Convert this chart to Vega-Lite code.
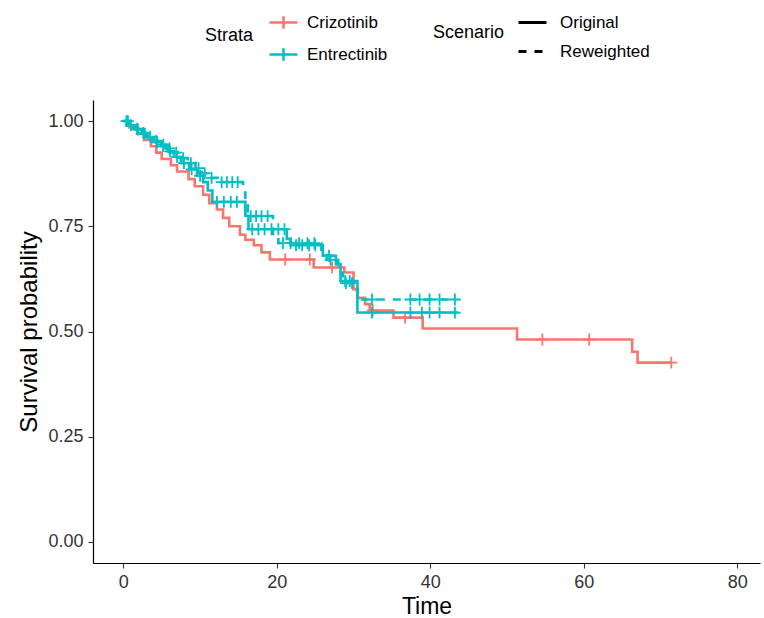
{
  "$schema": "https://vega.github.io/schema/vega-lite/v6.json",
  "autosize": {"type": "none"},
  "width": 667,
  "height": 463,
  "padding": {"left": 93, "top": 100, "right": 4, "bottom": 55},
  "background": "white",
  "datasets": {
    "curves": [
      {"strata": "Crizotinib", "scenario": "Original", "time": 0, "surv": 1.0},
      {"strata": "Crizotinib", "scenario": "Original", "time": 0.8, "surv": 0.985},
      {"strata": "Crizotinib", "scenario": "Original", "time": 1.8, "surv": 0.97},
      {"strata": "Crizotinib", "scenario": "Original", "time": 2.7, "surv": 0.955},
      {"strata": "Crizotinib", "scenario": "Original", "time": 3.6, "surv": 0.94},
      {"strata": "Crizotinib", "scenario": "Original", "time": 4.3, "surv": 0.925},
      {"strata": "Crizotinib", "scenario": "Original", "time": 5.0, "surv": 0.91},
      {"strata": "Crizotinib", "scenario": "Original", "time": 6.2, "surv": 0.895},
      {"strata": "Crizotinib", "scenario": "Original", "time": 7.0, "surv": 0.88},
      {"strata": "Crizotinib", "scenario": "Original", "time": 8.5, "surv": 0.862},
      {"strata": "Crizotinib", "scenario": "Original", "time": 9.3, "surv": 0.845},
      {"strata": "Crizotinib", "scenario": "Original", "time": 10.4, "surv": 0.825},
      {"strata": "Crizotinib", "scenario": "Original", "time": 11.2, "surv": 0.805},
      {"strata": "Crizotinib", "scenario": "Original", "time": 12.2, "surv": 0.79},
      {"strata": "Crizotinib", "scenario": "Original", "time": 13.0, "surv": 0.77},
      {"strata": "Crizotinib", "scenario": "Original", "time": 13.8, "surv": 0.75},
      {"strata": "Crizotinib", "scenario": "Original", "time": 15.2, "surv": 0.73},
      {"strata": "Crizotinib", "scenario": "Original", "time": 15.9, "surv": 0.718},
      {"strata": "Crizotinib", "scenario": "Original", "time": 17.0, "surv": 0.705},
      {"strata": "Crizotinib", "scenario": "Original", "time": 18.0, "surv": 0.688},
      {"strata": "Crizotinib", "scenario": "Original", "time": 19.1, "surv": 0.671},
      {"strata": "Crizotinib", "scenario": "Original", "time": 24.8, "surv": 0.652},
      {"strata": "Crizotinib", "scenario": "Original", "time": 28.8, "surv": 0.64},
      {"strata": "Crizotinib", "scenario": "Original", "time": 30.0, "surv": 0.60},
      {"strata": "Crizotinib", "scenario": "Original", "time": 30.5, "surv": 0.58},
      {"strata": "Crizotinib", "scenario": "Original", "time": 31.5, "surv": 0.565},
      {"strata": "Crizotinib", "scenario": "Original", "time": 32.1, "surv": 0.55},
      {"strata": "Crizotinib", "scenario": "Original", "time": 35.2, "surv": 0.533},
      {"strata": "Crizotinib", "scenario": "Original", "time": 39.0, "surv": 0.507},
      {"strata": "Crizotinib", "scenario": "Original", "time": 51.3, "surv": 0.481},
      {"strata": "Crizotinib", "scenario": "Original", "time": 66.3, "surv": 0.452},
      {"strata": "Crizotinib", "scenario": "Original", "time": 67.0, "surv": 0.426},
      {"strata": "Crizotinib", "scenario": "Original", "time": 71.4, "surv": 0.426},

      {"strata": "Entrectinib", "scenario": "Original", "time": 0, "surv": 1.0},
      {"strata": "Entrectinib", "scenario": "Original", "time": 0.7, "surv": 0.99},
      {"strata": "Entrectinib", "scenario": "Original", "time": 1.5, "surv": 0.98},
      {"strata": "Entrectinib", "scenario": "Original", "time": 2.4, "surv": 0.97},
      {"strata": "Entrectinib", "scenario": "Original", "time": 3.2, "surv": 0.96},
      {"strata": "Entrectinib", "scenario": "Original", "time": 4.0, "surv": 0.95},
      {"strata": "Entrectinib", "scenario": "Original", "time": 4.9, "surv": 0.94},
      {"strata": "Entrectinib", "scenario": "Original", "time": 5.8, "surv": 0.928},
      {"strata": "Entrectinib", "scenario": "Original", "time": 6.6, "surv": 0.915},
      {"strata": "Entrectinib", "scenario": "Original", "time": 7.5, "surv": 0.9},
      {"strata": "Entrectinib", "scenario": "Original", "time": 8.6, "surv": 0.885},
      {"strata": "Entrectinib", "scenario": "Original", "time": 9.6, "surv": 0.87},
      {"strata": "Entrectinib", "scenario": "Original", "time": 10.4, "surv": 0.855},
      {"strata": "Entrectinib", "scenario": "Original", "time": 11.0, "surv": 0.835},
      {"strata": "Entrectinib", "scenario": "Original", "time": 11.6, "surv": 0.808},
      {"strata": "Entrectinib", "scenario": "Original", "time": 15.9, "surv": 0.775},
      {"strata": "Entrectinib", "scenario": "Original", "time": 16.3, "surv": 0.743},
      {"strata": "Entrectinib", "scenario": "Original", "time": 21.3, "surv": 0.72},
      {"strata": "Entrectinib", "scenario": "Original", "time": 21.8, "surv": 0.705},
      {"strata": "Entrectinib", "scenario": "Original", "time": 26.0, "surv": 0.68},
      {"strata": "Entrectinib", "scenario": "Original", "time": 27.7, "surv": 0.66},
      {"strata": "Entrectinib", "scenario": "Original", "time": 28.3, "surv": 0.62},
      {"strata": "Entrectinib", "scenario": "Original", "time": 30.5, "surv": 0.545},
      {"strata": "Entrectinib", "scenario": "Original", "time": 43.6, "surv": 0.545},

      {"strata": "Entrectinib", "scenario": "Reweighted", "time": 0, "surv": 1.0},
      {"strata": "Entrectinib", "scenario": "Reweighted", "time": 0.5, "surv": 0.99},
      {"strata": "Entrectinib", "scenario": "Reweighted", "time": 1.3, "surv": 0.982},
      {"strata": "Entrectinib", "scenario": "Reweighted", "time": 2.2, "surv": 0.972},
      {"strata": "Entrectinib", "scenario": "Reweighted", "time": 3.0, "surv": 0.963},
      {"strata": "Entrectinib", "scenario": "Reweighted", "time": 3.9, "surv": 0.953},
      {"strata": "Entrectinib", "scenario": "Reweighted", "time": 4.8, "surv": 0.944},
      {"strata": "Entrectinib", "scenario": "Reweighted", "time": 5.6, "surv": 0.935},
      {"strata": "Entrectinib", "scenario": "Reweighted", "time": 6.5, "surv": 0.925},
      {"strata": "Entrectinib", "scenario": "Reweighted", "time": 7.4, "surv": 0.912},
      {"strata": "Entrectinib", "scenario": "Reweighted", "time": 8.4, "surv": 0.9},
      {"strata": "Entrectinib", "scenario": "Reweighted", "time": 9.4, "surv": 0.888},
      {"strata": "Entrectinib", "scenario": "Reweighted", "time": 10.2, "surv": 0.876},
      {"strata": "Entrectinib", "scenario": "Reweighted", "time": 11.0, "surv": 0.865},
      {"strata": "Entrectinib", "scenario": "Reweighted", "time": 12.3, "surv": 0.855},
      {"strata": "Entrectinib", "scenario": "Reweighted", "time": 15.6, "surv": 0.83},
      {"strata": "Entrectinib", "scenario": "Reweighted", "time": 15.9, "surv": 0.8},
      {"strata": "Entrectinib", "scenario": "Reweighted", "time": 16.2, "surv": 0.774},
      {"strata": "Entrectinib", "scenario": "Reweighted", "time": 19.5, "surv": 0.725},
      {"strata": "Entrectinib", "scenario": "Reweighted", "time": 20.2, "surv": 0.71},
      {"strata": "Entrectinib", "scenario": "Reweighted", "time": 25.8, "surv": 0.685},
      {"strata": "Entrectinib", "scenario": "Reweighted", "time": 26.5, "surv": 0.67},
      {"strata": "Entrectinib", "scenario": "Reweighted", "time": 28.0, "surv": 0.64},
      {"strata": "Entrectinib", "scenario": "Reweighted", "time": 28.6, "surv": 0.615},
      {"strata": "Entrectinib", "scenario": "Reweighted", "time": 30.5, "surv": 0.576},
      {"strata": "Entrectinib", "scenario": "Reweighted", "time": 43.6, "surv": 0.576}
    ],
    "censors": [
      {"strata": "Crizotinib", "scenario": "Original", "time": 21.1, "surv": 0.671},
      {"strata": "Crizotinib", "scenario": "Original", "time": 24.3, "surv": 0.671},
      {"strata": "Crizotinib", "scenario": "Original", "time": 27.2, "surv": 0.652},
      {"strata": "Crizotinib", "scenario": "Original", "time": 32.5, "surv": 0.55},
      {"strata": "Crizotinib", "scenario": "Original", "time": 36.7, "surv": 0.533},
      {"strata": "Crizotinib", "scenario": "Original", "time": 54.6, "surv": 0.481},
      {"strata": "Crizotinib", "scenario": "Original", "time": 60.7, "surv": 0.481},
      {"strata": "Crizotinib", "scenario": "Original", "time": 71.4, "surv": 0.426},

      {"strata": "Entrectinib", "scenario": "Original", "time": 0.6, "surv": 1.0},
      {"strata": "Entrectinib", "scenario": "Original", "time": 1.9, "surv": 0.98},
      {"strata": "Entrectinib", "scenario": "Original", "time": 2.8, "surv": 0.97},
      {"strata": "Entrectinib", "scenario": "Original", "time": 4.4, "surv": 0.95},
      {"strata": "Entrectinib", "scenario": "Original", "time": 5.2, "surv": 0.94},
      {"strata": "Entrectinib", "scenario": "Original", "time": 6.1, "surv": 0.928},
      {"strata": "Entrectinib", "scenario": "Original", "time": 7.0, "surv": 0.915},
      {"strata": "Entrectinib", "scenario": "Original", "time": 7.9, "surv": 0.9},
      {"strata": "Entrectinib", "scenario": "Original", "time": 8.9, "surv": 0.885},
      {"strata": "Entrectinib", "scenario": "Original", "time": 10.0, "surv": 0.87},
      {"strata": "Entrectinib", "scenario": "Original", "time": 12.2, "surv": 0.808},
      {"strata": "Entrectinib", "scenario": "Original", "time": 13.1, "surv": 0.808},
      {"strata": "Entrectinib", "scenario": "Original", "time": 14.0, "surv": 0.808},
      {"strata": "Entrectinib", "scenario": "Original", "time": 14.8, "surv": 0.808},
      {"strata": "Entrectinib", "scenario": "Original", "time": 16.8, "surv": 0.743},
      {"strata": "Entrectinib", "scenario": "Original", "time": 17.6, "surv": 0.743},
      {"strata": "Entrectinib", "scenario": "Original", "time": 18.4, "surv": 0.743},
      {"strata": "Entrectinib", "scenario": "Original", "time": 19.3, "surv": 0.743},
      {"strata": "Entrectinib", "scenario": "Original", "time": 20.2, "surv": 0.743},
      {"strata": "Entrectinib", "scenario": "Original", "time": 21.0, "surv": 0.743},
      {"strata": "Entrectinib", "scenario": "Original", "time": 22.5, "surv": 0.705},
      {"strata": "Entrectinib", "scenario": "Original", "time": 23.3, "surv": 0.705},
      {"strata": "Entrectinib", "scenario": "Original", "time": 24.2, "surv": 0.705},
      {"strata": "Entrectinib", "scenario": "Original", "time": 25.0, "surv": 0.705},
      {"strata": "Entrectinib", "scenario": "Original", "time": 26.8, "surv": 0.68},
      {"strata": "Entrectinib", "scenario": "Original", "time": 28.9, "surv": 0.62},
      {"strata": "Entrectinib", "scenario": "Original", "time": 29.5, "surv": 0.62},
      {"strata": "Entrectinib", "scenario": "Original", "time": 32.4, "surv": 0.545},
      {"strata": "Entrectinib", "scenario": "Original", "time": 37.4, "surv": 0.545},
      {"strata": "Entrectinib", "scenario": "Original", "time": 38.9, "surv": 0.545},
      {"strata": "Entrectinib", "scenario": "Original", "time": 39.9, "surv": 0.545},
      {"strata": "Entrectinib", "scenario": "Original", "time": 41.2, "surv": 0.545},
      {"strata": "Entrectinib", "scenario": "Original", "time": 43.2, "surv": 0.545},

      {"strata": "Entrectinib", "scenario": "Reweighted", "time": 0.4, "surv": 1.0},
      {"strata": "Entrectinib", "scenario": "Reweighted", "time": 1.0, "surv": 0.99},
      {"strata": "Entrectinib", "scenario": "Reweighted", "time": 1.8, "surv": 0.982},
      {"strata": "Entrectinib", "scenario": "Reweighted", "time": 2.6, "surv": 0.972},
      {"strata": "Entrectinib", "scenario": "Reweighted", "time": 3.5, "surv": 0.963},
      {"strata": "Entrectinib", "scenario": "Reweighted", "time": 4.3, "surv": 0.953},
      {"strata": "Entrectinib", "scenario": "Reweighted", "time": 5.2, "surv": 0.944},
      {"strata": "Entrectinib", "scenario": "Reweighted", "time": 6.0, "surv": 0.935},
      {"strata": "Entrectinib", "scenario": "Reweighted", "time": 6.9, "surv": 0.925},
      {"strata": "Entrectinib", "scenario": "Reweighted", "time": 7.8, "surv": 0.912},
      {"strata": "Entrectinib", "scenario": "Reweighted", "time": 8.8, "surv": 0.9},
      {"strata": "Entrectinib", "scenario": "Reweighted", "time": 9.8, "surv": 0.888},
      {"strata": "Entrectinib", "scenario": "Reweighted", "time": 10.6, "surv": 0.876},
      {"strata": "Entrectinib", "scenario": "Reweighted", "time": 11.5, "surv": 0.865},
      {"strata": "Entrectinib", "scenario": "Reweighted", "time": 12.8, "surv": 0.855},
      {"strata": "Entrectinib", "scenario": "Reweighted", "time": 13.5, "surv": 0.855},
      {"strata": "Entrectinib", "scenario": "Reweighted", "time": 14.2, "surv": 0.855},
      {"strata": "Entrectinib", "scenario": "Reweighted", "time": 14.9, "surv": 0.855},
      {"strata": "Entrectinib", "scenario": "Reweighted", "time": 16.6, "surv": 0.774},
      {"strata": "Entrectinib", "scenario": "Reweighted", "time": 17.3, "surv": 0.774},
      {"strata": "Entrectinib", "scenario": "Reweighted", "time": 18.0, "surv": 0.774},
      {"strata": "Entrectinib", "scenario": "Reweighted", "time": 18.8, "surv": 0.774},
      {"strata": "Entrectinib", "scenario": "Reweighted", "time": 20.8, "surv": 0.71},
      {"strata": "Entrectinib", "scenario": "Reweighted", "time": 21.8, "surv": 0.71},
      {"strata": "Entrectinib", "scenario": "Reweighted", "time": 22.9, "surv": 0.71},
      {"strata": "Entrectinib", "scenario": "Reweighted", "time": 24.0, "surv": 0.71},
      {"strata": "Entrectinib", "scenario": "Reweighted", "time": 24.9, "surv": 0.71},
      {"strata": "Entrectinib", "scenario": "Reweighted", "time": 27.0, "surv": 0.67},
      {"strata": "Entrectinib", "scenario": "Reweighted", "time": 29.0, "surv": 0.615},
      {"strata": "Entrectinib", "scenario": "Reweighted", "time": 29.8, "surv": 0.615},
      {"strata": "Entrectinib", "scenario": "Reweighted", "time": 32.4, "surv": 0.576},
      {"strata": "Entrectinib", "scenario": "Reweighted", "time": 37.4, "surv": 0.576},
      {"strata": "Entrectinib", "scenario": "Reweighted", "time": 38.6, "surv": 0.576},
      {"strata": "Entrectinib", "scenario": "Reweighted", "time": 39.9, "surv": 0.576},
      {"strata": "Entrectinib", "scenario": "Reweighted", "time": 41.2, "surv": 0.576},
      {"strata": "Entrectinib", "scenario": "Reweighted", "time": 43.2, "surv": 0.576}
    ]
  },
  "encoding": {
    "x": {
      "field": "time", "type": "quantitative",
      "scale": {"domain": [-3.95, 82.95], "nice": false, "zero": false},
      "axis": {"values": [0, 20, 40, 60, 80], "title": "Time", "labelPadding": 5, "titlePadding": 4, "titleFontSize": 23}
    },
    "y": {
      "field": "surv", "type": "quantitative",
      "scale": {"domain": [-0.05, 1.05], "nice": false, "zero": false},
      "axis": {"values": [0, 0.25, 0.5, 0.75, 1], "format": ".2f", "title": "Survival probability", "labelPadding": 5, "titlePadding": 6}
    },
    "color": {
      "field": "strata", "type": "nominal", "title": "Strata",
      "scale": {"domain": ["Crizotinib", "Entrectinib"], "range": ["#F8766D", "#00BFC4"]},
      "legend": {
        "orient": "none", "legendX": 112, "legendY": -93, "direction": "vertical",
        "titleOrient": "left", "titleAnchor": "middle", "titlePadding": 14,
        "symbolType": "M-1,0L1,0M0,-0.45L0,0.45", "symbolSize": 784, "symbolStrokeWidth": 2.5,
        "symbolFillColor": "transparent", "labelOffset": 8, "rowPadding": 5
      }
    }
  },
  "layer": [
    {
      "data": {"name": "curves"},
      "mark": {"type": "line", "interpolate": "step-after", "strokeWidth": 2.6},
      "encoding": {
        "strokeDash": {
          "field": "scenario", "type": "nominal", "title": "Scenario",
          "scale": {"domain": ["Original", "Reweighted"], "range": [[1, 0], [8, 8]]},
          "legend": {
            "orient": "none", "legendX": 340, "legendY": -93, "direction": "vertical",
            "titleOrient": "left", "titleAnchor": "middle", "titlePadding": 12,
            "symbolType": "stroke", "symbolSize": 784, "symbolStrokeWidth": 3,
            "symbolStrokeColor": "black", "labelOffset": 12, "rowPadding": 5
          }
        },
        "detail": {"field": "scenario"}
      }
    },
    {
      "data": {"name": "censors"},
      "mark": {"type": "point", "shape": "M-1,0L1,0M0,-1L0,1", "filled": false, "size": 140, "strokeWidth": 1.8, "opacity": 1}
    }
  ],
  "config": {
    "view": {"stroke": null},
    "font": "Liberation Sans",
    "axis": {
      "grid": false, "domainColor": "black", "domainWidth": 1.2, "tickColor": "#333", "tickSize": 5, "tickWidth": 1.1,
      "labelFont": "Liberation Sans", "labelFontSize": 18, "labelColor": "#333",
      "titleFont": "Liberation Sans", "titleFontSize": 24, "titleFontWeight": "normal", "titleColor": "black"
    },
    "legend": {
      "labelFont": "Liberation Sans", "labelFontSize": 17, "labelColor": "black",
      "titleFont": "Liberation Sans", "titleFontSize": 18, "titleFontWeight": "normal", "titleColor": "black"
    }
  }
}
